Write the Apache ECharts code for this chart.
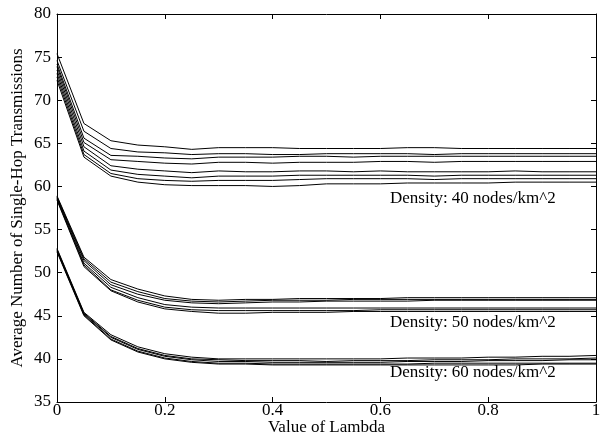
<!DOCTYPE html>
<html>
<head>
<meta charset="utf-8">
<script src="https://cdn.jsdelivr.net/npm/echarts@6/dist/echarts.min.js"></script>
<style>
  html, body { margin: 0; padding: 0; background: #fff; }
  #chart { width: 610px; height: 437px; }
</style>
</head>
<body>
<div id="chart"></div>
<script>
// x values (lambda)
const lambda = [0, 0.05, 0.1, 0.15, 0.2, 0.25, 0.3, 0.35, 0.4, 0.45, 0.5, 0.55, 0.6, 0.65, 0.7, 0.75, 0.8, 0.85, 0.9, 0.95, 1];

// Density 40 nodes/km^2
const density40 = [
  [75.4, 67.3, 65.3, 64.8, 64.6, 64.3, 64.5, 64.5, 64.5, 64.4, 64.4, 64.4, 64.4, 64.5, 64.5, 64.4, 64.4, 64.4, 64.4, 64.4, 64.4],
  [74.6, 66.4, 64.4, 64.0, 63.9, 63.7, 63.8, 63.8, 63.7, 63.7, 63.8, 63.8, 63.8, 63.8, 63.7, 63.8, 63.8, 63.8, 63.8, 63.8, 63.8],
  [74.2, 65.6, 63.6, 63.5, 63.3, 63.2, 63.4, 63.4, 63.4, 63.5, 63.5, 63.4, 63.5, 63.5, 63.5, 63.5, 63.5, 63.5, 63.5, 63.5, 63.5],
  [73.9, 65.1, 63.1, 62.9, 62.7, 62.6, 62.8, 62.8, 62.7, 62.8, 62.8, 62.8, 62.9, 62.9, 62.8, 62.9, 62.9, 62.9, 62.9, 62.9, 62.9],
  [73.5, 64.6, 62.4, 62.0, 61.8, 61.6, 61.8, 61.7, 61.7, 61.8, 61.8, 61.7, 61.8, 61.7, 61.7, 61.7, 61.7, 61.8, 61.7, 61.7, 61.7],
  [73.1, 64.1, 61.9, 61.4, 61.2, 61.0, 61.2, 61.2, 61.2, 61.3, 61.3, 61.3, 61.3, 61.3, 61.2, 61.3, 61.3, 61.3, 61.3, 61.3, 61.3],
  [72.7, 63.7, 61.5, 60.9, 60.7, 60.6, 60.7, 60.7, 60.7, 60.8, 60.9, 60.9, 60.9, 60.9, 60.8, 60.9, 60.9, 60.9, 60.9, 60.9, 60.9],
  [72.3, 63.4, 61.2, 60.5, 60.2, 60.1, 60.1, 60.1, 60.0, 60.1, 60.3, 60.3, 60.3, 60.4, 60.4, 60.4, 60.4, 60.5, 60.5, 60.5, 60.5]
];

// Density 50 nodes/km^2
const density50 = [
  [58.9, 51.8, 49.2, 48.1, 47.3, 46.9, 46.8, 46.9, 46.9, 47.0, 47.0, 47.0, 47.0, 47.1, 47.1, 47.1, 47.1, 47.1, 47.1, 47.1, 47.1],
  [58.8, 51.6, 48.9, 47.8, 47.0, 46.7, 46.6, 46.7, 46.8, 46.8, 46.8, 46.9, 46.9, 46.9, 46.9, 46.9, 46.9, 46.9, 46.9, 46.9, 46.9],
  [58.7, 51.4, 48.6, 47.5, 46.8, 46.5, 46.4, 46.5, 46.6, 46.6, 46.7, 46.7, 46.7, 46.7, 46.8, 46.8, 46.8, 46.8, 46.8, 46.8, 46.8],
  [58.6, 51.1, 48.3, 47.1, 46.3, 46.0, 45.9, 45.9, 45.9, 45.9, 45.9, 45.9, 45.9, 45.9, 45.9, 45.9, 45.9, 45.9, 45.9, 45.9, 45.9],
  [58.5, 50.9, 48.0, 46.8, 46.0, 45.7, 45.6, 45.6, 45.6, 45.6, 45.6, 45.6, 45.7, 45.7, 45.7, 45.7, 45.7, 45.7, 45.7, 45.7, 45.7],
  [58.4, 50.7, 47.9, 46.6, 45.8, 45.5, 45.3, 45.3, 45.4, 45.4, 45.4, 45.5, 45.5, 45.5, 45.5, 45.5, 45.5, 45.5, 45.5, 45.5, 45.5]
];

// Density 60 nodes/km^2
const density60 = [
  [52.8, 45.4, 42.8, 41.4, 40.6, 40.2, 40.0, 40.0, 40.0, 40.0, 40.0, 40.0, 40.0, 40.1, 40.1, 40.1, 40.2, 40.2, 40.3, 40.3, 40.4],
  [52.7, 45.3, 42.6, 41.2, 40.4, 40.0, 39.9, 39.8, 39.8, 39.8, 39.7, 39.8, 39.8, 39.8, 39.9, 39.9, 39.9, 40.0, 40.0, 40.0, 40.1],
  [52.6, 45.2, 42.5, 41.1, 40.3, 39.9, 39.7, 39.7, 39.6, 39.6, 39.6, 39.6, 39.6, 39.7, 39.7, 39.7, 39.8, 39.8, 39.8, 39.9, 39.9],
  [52.5, 45.1, 42.3, 40.9, 40.1, 39.7, 39.5, 39.5, 39.4, 39.4, 39.4, 39.4, 39.4, 39.4, 39.5, 39.5, 39.5, 39.5, 39.5, 39.5, 39.5],
  [52.4, 45.0, 42.2, 40.8, 40.0, 39.6, 39.4, 39.4, 39.3, 39.3, 39.3, 39.3, 39.3, 39.3, 39.3, 39.3, 39.3, 39.3, 39.4, 39.4, 39.4]
];

const groupLabels = ['Density: 40 nodes/km^2', 'Density: 50 nodes/km^2', 'Density: 60 nodes/km^2'];

const font = '"Liberation Serif", "DejaVu Serif", serif';

const chart = echarts.init(document.getElementById('chart'), null, { renderer: 'canvas' });

const series = [];
[density40, density50, density60].forEach((group, g) => {
  group.forEach((vals, i) => {
    series.push({
      name: 'g' + g + '_' + i,
      type: 'line',
      data: vals.map((v, k) => [lambda[k], v]),
      showSymbol: false,
      lineStyle: { color: '#000', width: 1 },
      silent: true,
      animation: false
    });
  });
});

const axisCommon = {
  axisLine: { show: true, onZero: false, lineStyle: { color: '#000', width: 1 } },
  axisTick: { show: true, inside: true, length: 5, lineStyle: { color: '#000' } },
  splitLine: { show: false }
};

const option = {
  animation: false,
  grid: { left: 57, right: 14, top: 14, bottom: 35, containLabel: false, outerBoundsMode: 'none' },
  xAxis: [
    Object.assign({
      type: 'value', min: 0, max: 1, interval: 0.2, position: 'bottom',
      name: 'Value of Lambda', nameLocation: 'middle', nameGap: 17, nameMoveOverlap: false,
      nameTextStyle: { fontFamily: font, fontSize: 17, color: '#000' },
      axisLabel: { fontFamily: font, fontSize: 17, color: '#000', margin: 0 }
    }, axisCommon),
    Object.assign({
      type: 'value', min: 0, max: 1, interval: 0.2, position: 'top',
      axisLabel: { show: false }
    }, axisCommon)
  ],
  yAxis: [
    Object.assign({
      type: 'value', min: 35, max: 80, interval: 5, position: 'left',
      name: 'Average Number of Single-Hop Transmissions', nameLocation: 'middle', nameGap: 31, nameMoveOverlap: false,
      nameTextStyle: { fontFamily: font, fontSize: 17, color: '#000' },
      axisLabel: { fontFamily: font, fontSize: 17, color: '#000', margin: 6 }
    }, axisCommon),
    Object.assign({
      type: 'value', min: 35, max: 80, interval: 5, position: 'right',
      axisLabel: { show: false }
    }, axisCommon)
  ],
  graphic: [
    { type: 'text', left: 390, top: 190, style: { text: groupLabels[0], font: '17px ' + font, fill: '#000' } },
    { type: 'text', left: 390, top: 314, style: { text: groupLabels[1], font: '17px ' + font, fill: '#000' } },
    { type: 'text', left: 390, top: 364, style: { text: groupLabels[2], font: '17px ' + font, fill: '#000' } }
  ],
  series: series
};

chart.setOption(option);
window.addEventListener('resize', () => chart.resize());
</script>
</body>
</html>
